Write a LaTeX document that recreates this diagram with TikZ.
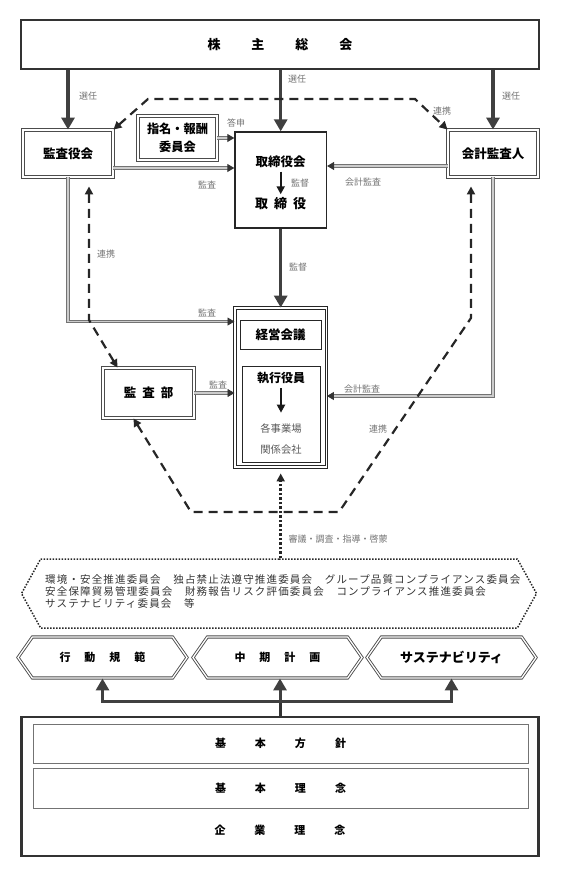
\documentclass[tikz,border=0pt]{standalone}
\usepackage{fontspec}
\setmainfont{Noto Sans CJK JP}
\newfontfamily\jpwide[LetterSpace=11]{Noto Sans CJK JP}
\usetikzlibrary{arrows.meta,shapes.symbols}

\begin{document}
\begin{tikzpicture}
[x=1pt,y=-1pt,>={Triangle[length=8pt,width=8pt]},
heavy/.style={draw=black!80,line width=2pt,inner sep=0pt},
framed/.style={draw=black!70,double=white,double distance=1.3pt,line width=.9pt,inner sep=0pt},
plain/.style={draw=black!85,line width=1pt,inner sep=0pt},
title/.style={font=\bfseries\fontsize{12.5}{14}\selectfont,text=black},
note/.style={font=\fontsize{9}{10}\selectfont,text=black!55},
elect/.style={-{Triangle[length=12pt,width=13pt]},line width=3.5pt,draw=black!75},
audit/.style={-{Triangle[length=7pt,width=8pt,color=black!80,fill=black!80]},draw=black!55,double=black!20,double distance=1.4pt,line width=.9pt},
link/.style={<->,line width=2.2pt,draw=black!85,dash pattern=on 9pt off 6pt},
down/.style={->,line width=2pt,draw=black!90},
hexbox/.style={framed,signal,signal to=west and east,signal pointer angle=110,minimum width=169pt,minimum height=41pt,title,font=\bfseries\fontsize{11}{12}\selectfont}]
\useasboundingbox (0,0) rectangle (561,871);

\node[heavy,minimum width=518pt,minimum height=49pt,title,font=\bfseries\fontsize{13}{14}\selectfont] (soukai) at (280,44.5) {株\hspace{31pt}主\hspace{31pt}総\hspace{31pt}会};
\node[framed,minimum width=90pt,minimum height=47pt,title] (kansa) at (68,153.5) {監査役会};
\node[framed,minimum width=79pt,minimum height=44pt,title,font=\bfseries\fontsize{12.2}{18}\selectfont,align=center] (shimei) at (177.5,138) {指名・報酬\\委員会};
\node[plain,line width=1.3pt,minimum width=91.5pt,minimum height=96pt] (tori) at (280.7,180) {};
\node[title] (tori1) at (280.7,162) {取締役会};
\node[title,font=\bfseries\fontsize{13}{14}\selectfont] (tori2) at (280.7,204) {取\hspace{6pt}締\hspace{6pt}役};
\node[framed,minimum width=90pt,minimum height=47pt,title] (kaikei) at (493,153.5) {会計監査人};
\node[framed,minimum width=91pt,minimum height=50pt,title] (bu) at (148.5,393) {監\hspace{6pt}査\hspace{6pt}部};

\node[framed,draw=black!85,minimum width=91.5pt,minimum height=159pt] (exec) at (280.7,387.5) {};
\node[plain,minimum width=81pt,minimum height=29pt,title] (keiei) at (280.5,334.5) {経営会議};
\node[plain,minimum width=78pt,minimum height=96pt] (shikko) at (281,414) {};
\node[title,font=\bfseries\fontsize{12}{14}\selectfont] (yakuin) at (281,378) {執行役員};
\node[note,font=\fontsize{10.3}{12}\selectfont,text=black!65] (jigyo) at (281,429) {各事業場};
\node[note,font=\fontsize{10.3}{12}\selectfont,text=black!65] (kankei) at (281,450) {関係会社};

\node[signal,signal to=west and east,signal pointer angle=122,draw=black!85,line width=1.5pt,dash pattern=on 1.5pt off 1.5pt,inner sep=0pt,minimum width=515pt,minimum height=69pt] (iinkai) at (279,593.5) {};
\node[anchor=west,align=left,inner sep=0pt,font=\jpwide\fontsize{10.5}{12}\selectfont,text=black!80] (iinlist) at (45,592) {環境・安全推進委員会　独占禁止法遵守推進委員会　グループ品質コンプライアンス委員会\\安全保障貿易管理委員会　財務報告リスク評価委員会　コンプライアンス推進委員会\\サステナビリティ委員会　等};

\node[hexbox] (koudou) at (102.5,657.5) {行\hspace{14pt}動\hspace{14pt}規\hspace{14pt}範};
\node[hexbox] (chuki) at (277.5,657.5) {中\hspace{14pt}期\hspace{14pt}計\hspace{14pt}画};
\node[hexbox,font=\bfseries\fontsize{13}{14}\selectfont] (sus) at (451.5,657.5) {サステナビリティ};

\node[heavy,line width=2.6pt,minimum width=517pt,minimum height=139pt] (base) at (280,786.5) {};
\node[plain,draw=black!55,minimum width=495pt,minimum height=39pt,title,font=\bfseries\fontsize{11}{12}\selectfont] (houshin) at (280.5,743.5) {基\hspace{29pt}本\hspace{29pt}方\hspace{29pt}針};
\node[plain,draw=black!55,minimum width=495pt,minimum height=40pt,title,font=\bfseries\fontsize{11}{12}\selectfont] (rinen) at (280.5,788) {基\hspace{29pt}本\hspace{29pt}理\hspace{29pt}念};
\node[title,font=\bfseries\fontsize{11}{12}\selectfont] (kigyo) at (280,830) {企\hspace{29pt}業\hspace{29pt}理\hspace{29pt}念};

\node[note] (sen1) at (88,96) {選任};
\node[note] (sen2) at (297,79) {選任};
\node[note] (sen3) at (511,96) {選任};
\node[note] (toushin) at (236,123) {答申};
\node[note] (kansa1) at (207,185) {監査};
\node[note] (kantoku1) at (300,183) {監督};
\node[note] (kaikei1) at (363,182) {会計監査};
\node[note] (renkei1) at (442,111) {連携};
\node[note] (renkei2) at (106,254) {連携};
\node[note] (kantoku2) at (298,267) {監督};
\node[note] (kansa2) at (207,313) {監査};
\node[note] (kansa3) at (218,385) {監査};
\node[note] (kaikei2) at (362,389) {会計監査};
\node[note] (renkei3) at (378,429) {連携};
\node[note] (shingi) at (338,539) {審議・調査・指導・啓蒙};

\draw[elect] (soukai.south -| kansa) -- (kansa.north);
\draw[elect] (soukai.south -| tori) -- (tori.north);
\draw[elect] (soukai.south -| kaikei) -- (kaikei.north);
\draw[down] (tori1) -- (tori2);
\draw[down,shorten <=1pt,shorten >=8pt] (yakuin) -- (jigyo);
\draw[elect,line width=3pt] (tori.south) -- (exec.north);

\draw[audit] (shimei.east) -- (shimei.east -| tori.west);
\draw[audit] ([yshift=-14.5pt]kansa.east) -- ([yshift=-14.5pt]kansa.east -| tori.west);
\draw[audit] ([yshift=-12.5pt]kaikei.west) -- ([yshift=-12.5pt]kaikei.west -| tori.east);
\draw[audit] (kansa.south) |- ([yshift=-14pt]exec.north west);
\draw[audit] (bu.east) -- (bu.east -| exec.west);
\draw[audit] (kaikei.south) |- ([yshift=-8.5pt]exec.east);

\draw[link] (kansa.north east) -- (148,99) -- (415,99) -- (kaikei.north west);
\draw[link] ([xshift=21pt,yshift=-9pt]kansa.south) -- (89,320) -- ([xshift=-31pt]bu.north);
\draw[link] ([xshift=-22pt,yshift=-9pt]kaikei.south) -- (471,318) -- (339,512) -- (191,512) -- ([xshift=-15pt]bu.south);
\draw[->,line width=2.5pt,draw=black!85,dash pattern=on 2.5pt off 2pt,shorten >=6pt] (exec.south |- iinkai.north) -- (exec.south);

\draw[line width=3pt,draw=black!80] (base.north) -- ++(0,-14) coordinate (hub);
\draw[elect,line width=3pt] (hub) -- (hub |- chuki.south);
\draw[elect,line width=3pt] (hub) -| (koudou.south);
\draw[elect,line width=3pt] (hub) -| (sus.south);
\end{tikzpicture}
\end{document}
